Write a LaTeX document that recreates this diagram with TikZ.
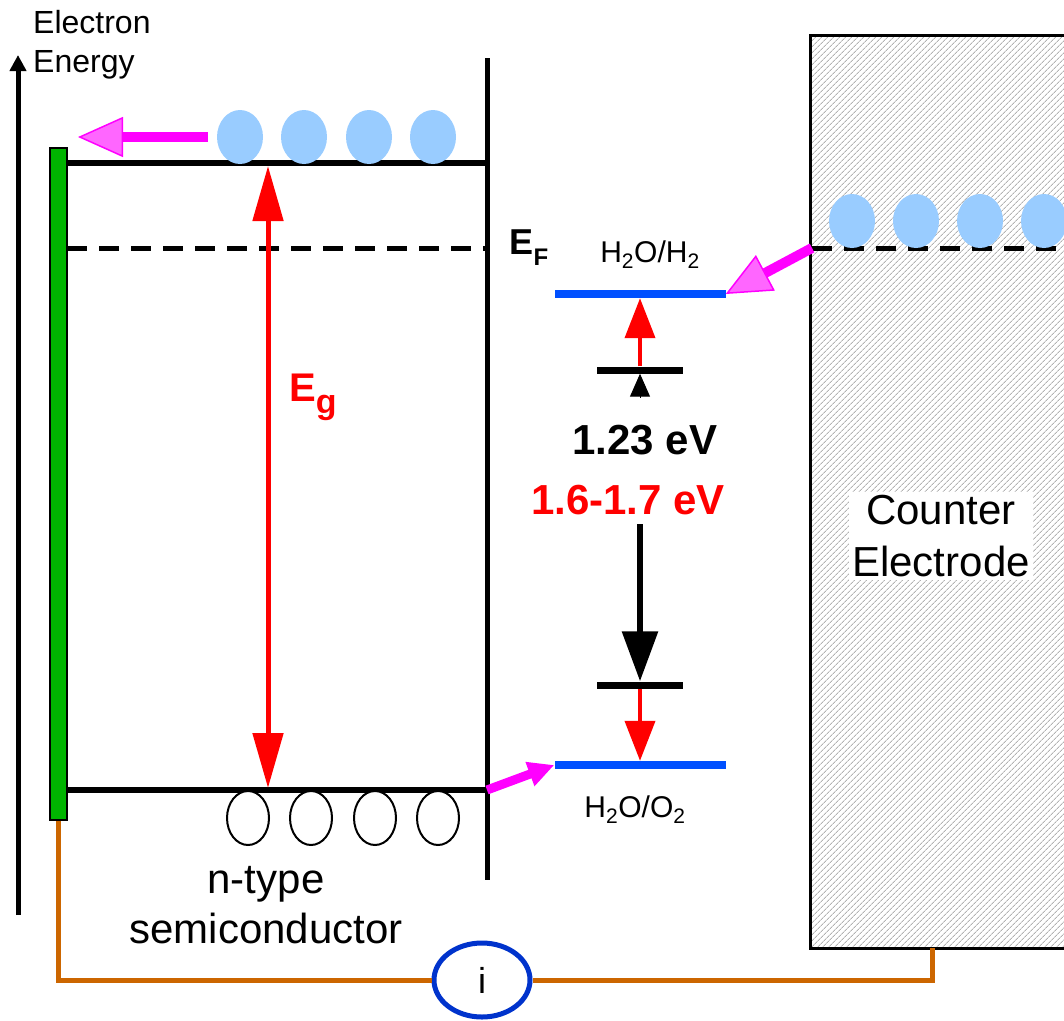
\documentclass[tikz,border=0pt]{standalone}
\usepackage{fontspec}
\setmainfont{Liberation Sans}
\usepackage{tikz}
\usetikzlibrary{arrows.meta,positioning,calc,shapes.geometric,patterns.meta}
\usepackage{xcolor}
\definecolor{contactgreen}{RGB}{0,180,0}
\definecolor{elecblue}{RGB}{153,204,255}
\definecolor{pushpink}{RGB}{255,0,255}
\definecolor{pushfill}{RGB}{255,102,255}
\definecolor{redoxblue}{RGB}{0,80,255}
\definecolor{wireorange}{RGB}{204,102,0}
\definecolor{meterblue}{RGB}{0,51,204}
\newcommand{\pxfont}[2]{\fontsize{#1}{#2}\selectfont}

\begin{document}
\begin{tikzpicture}[x=1pt, y=-1pt,
    contact/.style={rectangle, draw=black, line width=1.2pt, fill=contactgreen,
        minimum width=17pt, minimum height=672pt, inner sep=0pt},
    electron/.style={ellipse, fill=elecblue, minimum width=46pt,
        minimum height=54pt, inner sep=0pt},
    hole/.style={ellipse, draw=black, line width=2pt, fill=white,
        minimum width=42pt, minimum height=54pt, inner sep=0pt},
    redox/.style={rectangle, fill=redoxblue, minimum width=171pt,
        minimum height=8pt, inner sep=0pt},
    tickbar/.style={rectangle, fill=black, minimum width=86pt,
        minimum height=7pt, inner sep=0pt},
    counter/.style={rectangle, draw=black, line width=3pt,
        pattern={Lines[angle=45, distance=4pt, line width=1pt]},
        pattern color=black!30, minimum width=290pt, minimum height=913pt},
    ammeter/.style={ellipse, draw=meterblue, line width=5pt, fill=white,
        minimum width=96pt, minimum height=74pt, inner sep=0pt},
    band/.style={line width=6pt, black},
    fermi/.style={line width=5pt, black, dash pattern=on 20pt off 12pt},
    wire/.style={line width=5pt, wireorange},
    axisarr/.style={-{Triangle[length=16pt, width=16pt]}, line width=5pt},
    pusharr/.style={-{Triangle[length=45pt, width=40pt, fill=pushfill, line width=1.5pt]},
        line width=10pt, pushpink},
    injarr/.style={-{Triangle[length=26pt, width=24pt]}, line width=9pt, pushpink},
    gaparr/.style={{Triangle[length=55pt, width=30pt]}-{Triangle[length=55pt, width=30pt]},
        line width=5pt, red},
    redarr/.style={-{Triangle[length=40pt, width=30pt]}, line width=4pt, red},
    blkarr/.style={-{Triangle[length=50pt, width=35pt]}, line width=6pt, black}
]
    \useasboundingbox (0,0) rectangle (1064,1020);

    % energy axis
    \coordinate (axB) at (18,915);
    \coordinate (axT) at (18,55);
    \draw[axisarr] (axB) -- (axT);
    \node[anchor=north west, align=left, inner sep=0pt, font={\pxfont{32}{39}}]
        (axlbl) at (33,10) {Electron\\Energy};

    % counter electrode
    \node[counter] (ce) at (955,491.5) {};
    \node[align=center, fill=white, inner sep=3pt, font={\pxfont{42}{52}}]
        (celbl) at (941,536) {Counter\\Electrode};
    \coordinate (efc) at (812,248);
    \draw[fermi] (efc) -- (1064,248);
    \foreach \x [count=\i] in {852,916,980,1044}
        \node[electron] (c\i) at (\x,221) {};

    % semiconductor
    \node[contact] (bar) at (58.5,484) {};
    \coordinate (cbL) at (67,163);
    \coordinate (cbR) at (487,163);
    \coordinate (efL) at (67,248);
    \coordinate (efR) at (487,248);
    \coordinate (vbL) at (67,790);
    \coordinate (vbR) at (487,790);
    \coordinate (edgeT) at (487,58);
    \coordinate (edgeB) at (487,880);
    \draw[band] (cbL) -- (cbR);
    \draw[band] (vbL) -- (vbR);
    \draw[fermi] (efL) -- (efR);
    \draw[line width=5pt] (edgeT) -- (edgeB);
    \node[font=\bfseries] (eflbl) at (529,248)
        {\pxfont{36}{36}E\raisebox{-.3em}{\pxfont{24}{24}F}};

    \foreach \x [count=\i] in {240,304,369,433}
        \node[electron] (e\i) at (\x,137) {};
    \foreach \x [count=\i] in {248,311,375,438}
        \node[hole] (h\i) at (\x,818) {};
    \node[align=center, font={\pxfont{42}{50}}] (sclbl) at (266,905)
        {n-type\\semiconductor};

    \coordinate (exit) at (78,137);
    \draw[pusharr, shorten <=9pt] (e1.west) -- (exit);

    % band gap
    \coordinate (egT) at (268,166);
    \coordinate (egB) at (268,788);
    \draw[gaparr] (egT) -- (egB);
    \node[red, font=\bfseries] (eglbl) at (313,397)
        {\pxfont{40}{40}E\raisebox{-.3em}{\pxfont{34}{34}g}};

    % redox levels
    \node[redox] (hh) at (640,294) {};
    \node[redox] (ho) at (640,765) {};
    \node (hhlbl) at (650,255) {\pxfont{30}{30}H\textsubscript{2}O/H\textsubscript{2}};
    \node (holbl) at (635,810) {\pxfont{30}{30}H\textsubscript{2}O/O\textsubscript{2}};
    \node[tickbar] (t1) at (640,370) {};
    \node[tickbar] (t2) at (640,685) {};
    \node[font=\bfseries] (v123) at (645,440) {\pxfont{42}{42}1.23 eV};
    \node[red, font=\bfseries] (v16) at (628,500) {\pxfont{42}{42}1.6-1.7 eV};

    \draw[redarr] (t1.north) -- (hh.south);
    \draw[-{Triangle[length=23pt, width=20pt]}, line width=1pt]
        ($(t1.south)+(0,24)$) -- (t1.south);
    \draw[blkarr, shorten <=6pt] (v16.south -| t2.north) -- (t2.north);
    \draw[redarr] (t2.south) -- (ho.north);

    % charge transfer
    \draw[pusharr] (efc) -- (hh.east);
    \draw[injarr] (vbR) -- (ho.west);

    % external circuit
    \node[ammeter] (amm) at (482,980) {\pxfont{36}{36}i};
    \coordinate (ceb) at (932,948);
    \draw[wire] (bar.south) |- (amm.west);
    \draw[wire] (amm.east) -| (ceb);
\end{tikzpicture}
\end{document}
